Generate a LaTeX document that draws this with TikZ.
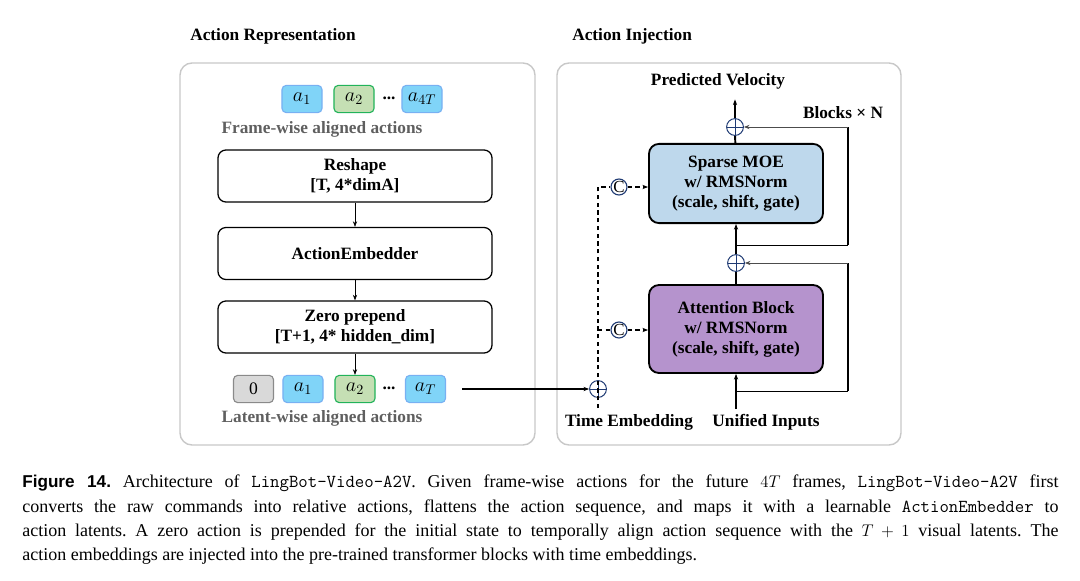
\documentclass[tikz,border=0pt]{standalone}
\usepackage{fontspec}
\setmainfont{Liberation Serif}
\newfontfamily\capsans{Liberation Sans}
\usepackage{tikz}
\usetikzlibrary{arrows.meta,positioning}
\definecolor{tokblue}{HTML}{80D4F8}
\definecolor{tokblueline}{HTML}{78B0F2}
\definecolor{tokgreen}{HTML}{C5DFB4}
\definecolor{tokgreenline}{HTML}{22B35A}
\definecolor{tokgray}{HTML}{D9D9D9}
\definecolor{tokgrayline}{HTML}{8A8A8A}
\definecolor{moeblue}{HTML}{BED8EC}
\definecolor{attnpurple}{HTML}{B593CD}
\definecolor{opnavy}{HTML}{1F3A73}
\definecolor{panelgray}{HTML}{C8C8C8}
\definecolor{notegray}{HTML}{5F5F5F}
\newcommand{\codett}[1]{{\fontsize{13}{17.3}\selectfont\ttfamily #1}}
\newcommand{\figlabel}[1]{{\fontsize{12.2}{17.3}\selectfont\capsans\bfseries #1}}

\begin{document}
\begin{tikzpicture}[
  x=0.025cm, y=-0.025cm,
  every node/.style={font=\fontsize{12.3}{14.2}\selectfont\bfseries},
  panel/.style={draw=panelgray, line width=1pt, rounded corners=0.3cm},
  stepbox/.style={draw, line width=0.9pt, rounded corners=0.2cm, minimum width=6.85cm, minimum height=1.3cm, align=center},
  tok/.style={rounded corners=3pt, line width=0.8pt, minimum width=1cm, minimum height=0.68cm, inner sep=0pt, font=\fontsize{14.5}{15}\selectfont},
  ablue/.style={tok, fill=tokblue, draw=tokblueline},
  agreen/.style={tok, fill=tokgreen, draw=tokgreenline},
  agray/.style={tok, fill=tokgray, draw=tokgrayline},
  blk/.style={draw, line width=1.3pt, rounded corners=0.25cm, minimum width=4.35cm, align=center},
  oplus/.style={circle, draw=opnavy, line width=0.7pt, minimum size=0.42cm, inner sep=0pt,
    path picture={\draw[opnavy, line width=0.7pt] (path picture bounding box.north) -- (path picture bounding box.south) (path picture bounding box.west) -- (path picture bounding box.east);}},
  ocat/.style={circle, draw=opnavy, line width=0.8pt, minimum size=0.4cm, inner sep=0pt, font=\fontsize{12}{12}\selectfont, text=black},
  note/.style={text=notegray},
  thickline/.style={line width=1.4pt},
  dashline/.style={dashed, dash pattern=on 3pt off 2.5pt, line width=1.2pt},
  >={Stealth[length=4pt]}
]
  \useasboundingbox (0,0) rectangle (1080,580);

  % panels
  \node[anchor=west, inner sep=0pt] (reptitle) at (190,36) {Action Representation};
  \node[anchor=west, inner sep=0pt] (injtitle) at (572,36) {Action Injection};
  \draw[panel] (180,63) rectangle (535,445);
  \draw[panel] (557,63) rectangle (901,445);

  % action representation
  \node[ablue] (fa1) at (302,99) {$a_1$};
  \node[agreen] (fa2) at (354,99) {$a_2$};
  \node (fdots) at (389,98) {...};
  \node[ablue] (fa4T) at (422,99) {$a_{4T}$};
  \node[note] (ftext) at (322,129) {Frame-wise aligned actions};

  \node[stepbox] (reshape) at (355,176) {Reshape\\{[T, 4*dimA]}};
  \node[stepbox] (embedder) at (355,253.5) {ActionEmbedder};
  \node[stepbox] (prepend) at (355,327) {Zero prepend\\{[T+1, 4* hidden\_dim]}};

  \node[agray, font=\fontsize{12.5}{13}\selectfont] (l0) at (253.5,389) {0};
  \node[ablue] (la1) at (303,389) {$a_1$};
  \node[agreen] (la2) at (355,389) {$a_2$};
  \node (ldots) at (389,388) {...};
  \node[ablue] (laT) at (425.5,389) {$a_T$};
  \node[note] (ltext) at (322,418) {Latent-wise aligned actions};

  \draw[->] (reshape) -- (embedder);
  \draw[->] (embedder) -- (prepend);
  \draw[->] (prepend) -- (la2);

  % action injection
  \node (velocity) at (718,81) {Predicted Velocity};
  \node (blocksn) at (843,113) {Blocks × N};
  \node[oplus] (plustop) at (735,127) {};
  \node[blk, fill=moeblue, minimum height=1.98cm] (moe) at (736,183.5) {Sparse MOE\\w/ RMSNorm\\(scale, shift, gate)};
  \node[oplus] (plusmid) at (736,263) {};
  \node[blk, fill=attnpurple, minimum height=2.2cm] (attn) at (736,329) {Attention Block\\w/ RMSNorm\\(scale, shift, gate)};
  \node (inputs) at (766,422) {Unified Inputs};
  \node (timeemb) at (629,422) {Time Embedding};
  \node[oplus] (plusin) at (598,389) {};
  \node[ocat] (cattop) at (619,187) {C};
  \node[ocat] (catmid) at (619,330) {C};

  \coordinate (dtop) at (598,187);
  \coordinate (dmid) at (598,330);
  \coordinate (dbot) at (598,408);
  \coordinate (inbot) at (736,409);
  \coordinate (looptop) at (736,245);
  \coordinate (loopbot) at (736,391);
  \coordinate (rtop) at (848,127);
  \coordinate (rmid) at (848,263);

  \draw[thickline] (moe) -- (plustop);
  \draw[thickline, ->, shorten >=4pt] (plustop) -- (plustop |- velocity.south);
  \draw[thickline] (attn) -- (plusmid);
  \draw[thickline, ->] (plusmid) -- (moe);
  \draw[thickline, ->] (inbot) -- (attn);

  % residual loops
  \draw[line width=0.7pt] (looptop) -- (looptop -| rtop);
  \draw[thickline] (looptop -| rtop) -- (rtop);
  \draw[line width=0.5pt, gray!60!black, ->] (rtop) -- (plustop);
  \draw[line width=0.7pt] (loopbot) -- (loopbot -| rmid);
  \draw[thickline] (loopbot -| rmid) -- (rmid);
  \draw[line width=0.5pt, gray!60!black, ->] (rmid) -- (plusmid);

  % time embedding
  \draw[dashline] (dbot) -- (dtop) -- (cattop);
  \draw[dashline] (dmid) -- (catmid);
  \draw[dashline, line width=1pt, ->] (cattop) -- (cattop -| moe.west);
  \draw[dashline, line width=1pt, ->] (catmid) -- (catmid -| attn.west);
  \draw[line width=1pt, ->, shorten <=0.4cm] (laT) -- (plusin);

  % caption
  \node[anchor=north west, text width=25.9cm, align=justify, inner sep=0pt,
    font=\fontsize{12.8}{17.3}\selectfont] (caption) at (22,475)
  {\noindent\frenchspacing\hyphenpenalty=10000 \figlabel{Figure 14.} Architecture of \codett{LingBot-Video-A2V}. Given frame-wise actions for the future $4T$ frames, \codett{LingBot-Video-A2V} first\linebreak
  converts the raw commands into relative actions, flattens the action sequence, and maps it with a learnable \codett{ActionEmbedder} to\linebreak
  action latents. A zero action is prepended for the initial state to temporally align action sequence with the $T+1$ visual latents. The\linebreak
  action embeddings are injected into the pre-trained transformer blocks with time embeddings.};
\end{tikzpicture}
\end{document}
